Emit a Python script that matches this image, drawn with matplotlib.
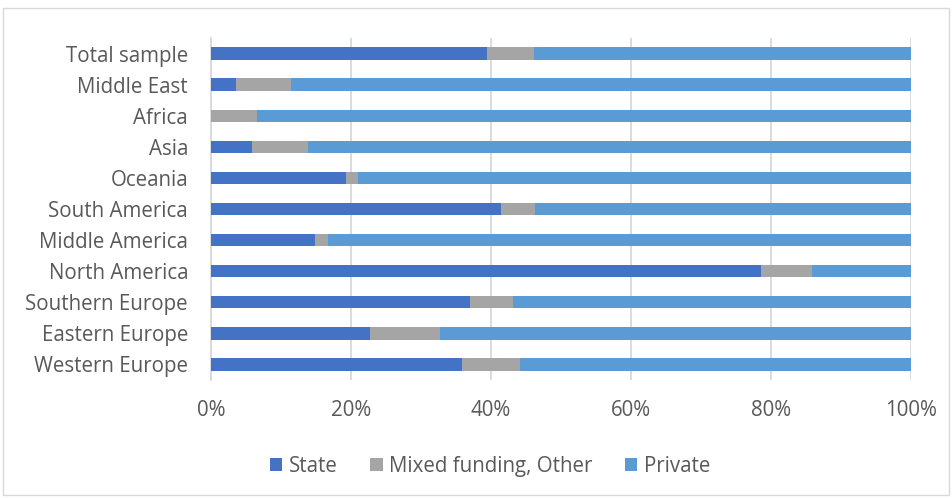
import matplotlib
matplotlib.use("Agg")
import matplotlib.pyplot as plt
from matplotlib.patches import Rectangle

regions = ["Total sample", "Middle East", "Africa", "Asia", "Oceania",
           "South America", "Middle America", "North America",
           "Southern Europe", "Eastern Europe", "Western Europe"]
state = [39.4, 3.6, 0.0, 5.8, 19.3, 41.5, 14.8, 78.6, 37.0, 22.7, 35.9]
mixed = [6.8, 7.8, 6.6, 8.0, 1.7, 4.8, 1.9, 7.2, 6.2, 10.0, 8.3]
private = [100 - s - m for s, m in zip(state, mixed)]
xticks = [0, 20, 40, 60, 80, 100]
xticklabels = ["0%", "20%", "40%", "60%", "80%", "100%"]

plt.rcParams["font.family"] = ["Open Sans", "DejaVu Sans"]
text_color = "#595959"

fig = plt.figure(figsize=(9.53, 4.98), dpi=100)
ax = fig.add_axes([211 / 953, 1 - 380 / 498, 700 / 953, 342 / 498])

y = list(range(len(regions)))
h = 0.4
left2 = state
left3 = [s + m for s, m in zip(state, mixed)]
ax.barh(y, state, height=h, color="#4472C4", label="State", zorder=3)
ax.barh(y, mixed, left=left2, height=h, color="#A5A5A5",
        label="Mixed funding, Other", zorder=3)
ax.barh(y, private, left=left3, height=h, color="#5B9BD5",
        label="Private", zorder=3)

ax.set_xlim(0, 100)
ax.set_ylim(len(regions) - 0.5, -0.5)
ax.set_xticks(xticks)
ax.set_xticklabels(xticklabels)
ax.set_yticks(y)
ax.set_yticklabels(regions)
ax.tick_params(axis="both", length=0, labelsize=14.8, colors=text_color)
ax.tick_params(axis="x", pad=14.5)
ax.tick_params(axis="y", pad=16.5)
ax.grid(axis="x", color="#D9D9D9", linewidth=1.3, zorder=0)
for side in ["top", "right", "bottom"]:
    ax.spines[side].set_visible(False)
ax.spines["left"].set_color("#D9D9D9")
ax.spines["left"].set_linewidth(1.3)

leg = fig.legend(loc="center", bbox_to_anchor=(490 / 953, 1 - 466 / 498),
                 ncol=3, frameon=False, fontsize=14.8, handlelength=0.6,
                 handleheight=0.6, handletextpad=0.3, columnspacing=1.6)
for t in leg.get_texts():
    t.set_color(text_color)

fig.patches.append(Rectangle((3 / 953, 3 / 498), 946 / 953, 487 / 498,
                             transform=fig.transFigure, fill=False,
                             edgecolor="#D9D9D9", linewidth=1))

fig.savefig("out.png", dpi=100)
